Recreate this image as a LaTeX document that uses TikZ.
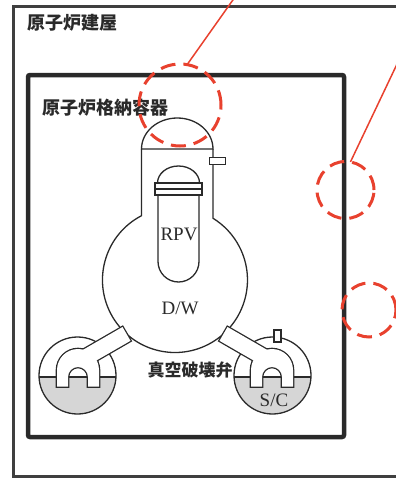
\documentclass[tikz,border=0pt]{standalone}
\usepackage{fontspec}
\newfontfamily\jpfont{Noto Sans CJK JP}
\newfontfamily\tmsfont{Liberation Serif}
\usetikzlibrary{calc}
\usetikzlibrary{positioning}

\definecolor{ink}{HTML}{2A2A2A}
\definecolor{markred}{HTML}{E8412E}
\definecolor{water}{HTML}{D6D6D6}

\tikzset{
  wall/.style={line width=3pt, draw=ink!90},
  pcvwall/.style={line width=4.5pt, draw=ink, rounded corners=2pt},
  vessel/.style={line width=1.3pt, draw=ink},
  title/.style={inner sep=0pt, text=ink, font=\jpfont\bfseries\fontsize{18}{18}\selectfont},
  lbl/.style={inner sep=0pt, text=ink, font=\tmsfont\fontsize{19}{19}\selectfont},
  ringmark/.style={circle, draw=markred, line width=3pt, dash pattern=on 15pt off 8pt, inner sep=0pt, outer sep=0pt},
  leader/.style={draw=markred, line width=1.5pt}
}

\begin{document}
\begin{tikzpicture}[x=1pt, y=-1pt]
    \useasboundingbox (0,0) rectangle (396,479);

    % reactor building and containment walls
    \draw[wall] (400,6) -- (13,6) -- (13,476.5) -- (400,476.5);
    \draw[pcvwall] (28,75) rectangle (344,437);
    \node[title, anchor=west] (bldg) at (27,23) {原子炉建屋};
    \node[title, anchor=west] (pcv) at (42,108) {原子炉格納容器};

    % suppression chambers with water
    \foreach \side in {0,1}{
      \begin{scope}[xshift=\side*350pt, xscale=1-2*\side]
        \begin{scope}
          \clip (77.5,375.5) circle[radius=38.5];
          \fill[water] (30,377) rectangle (125,420);
        \end{scope}
        \draw[vessel] (39,377) -- (116,377);
        \draw[vessel] (77.5,375.5) circle[radius=38.5];
      \end{scope}
    }

    % drywell: neck and bulb
    \draw[vessel] (141.5,149) -- (141.5,215.7)
        arc[start angle=242.5, end angle=-58.4, radius=72.5] -- (213,149);
    % top head
    \draw[vessel] (141.5,149) arc[start angle=180, end angle=360, x radius=35.75, y radius=31] -- cycle;

    % vent pipes and downcomer arches
    \foreach \side in {0,1}{
      \begin{scope}[xshift=\side*350pt, xscale=1-2*\side]
        \coordinate (p1) at (122.5,327.0);
        \coordinate (p2) at (79.2,352.0);
        \coordinate (p3) at (87.2,365.8);
        \coordinate (p4) at (130.5,340.8);
        % thick outline first, white fill after: pipe and arch merge
        \draw[vessel, line width=2.6pt] (57,386.5) -- (57,370)
            arc[start angle=180, end angle=360, radius=21] -- (99,386.5) -- (88,386.5) -- (88,377)
            arc[start angle=0, end angle=-180, radius=10] -- (68,386.5) -- cycle;
        \draw[vessel, line width=2.6pt] (p1) -- (p2) -- (p3) -- (p4) -- cycle;
        \fill[white] (57,386.5) -- (57,370)
            arc[start angle=180, end angle=360, radius=21] -- (99,386.5) -- (88,386.5) -- (88,377)
            arc[start angle=0, end angle=-180, radius=10] -- (68,386.5) -- cycle;
        \fill[white] (p1) -- (p2) -- (p3) -- (p4) -- cycle;
      \end{scope}
    }

    % small nozzles
    \draw[vessel, fill=white] (209.5,157.5) rectangle (225.5,164.5);
    \draw[vessel, fill=white] (274,330) rectangle (281,342);

    % RPV
    \draw[vessel] (158,195) -- (158,261.5) arc[start angle=180, end angle=0, radius=20.5] -- (199,195);
    \draw[vessel] (157.5,183) arc[start angle=180, end angle=360, x radius=21, y radius=17];
    \draw[vessel, fill=white] (155,183) rectangle (202,189);
    \draw[vessel, fill=white] (155,189) rectangle (202,195);

    \node[lbl] (rpv) at (179,234) {RPV};
    \node[lbl] (dw) at (180,308) {D/W};
    \node[lbl] (sc) at (274,400) {S/C};
    \node[title, font=\jpfont\bfseries\fontsize{17}{17}\selectfont] (vb) at (190,370) {真空破壊弁};

    % red marks
    \node[ringmark, minimum size=82pt] (mk1) at (180,105) {};
    \node[ringmark, minimum size=57pt] (mk2) at (345.5,190) {};
    \node[ringmark, minimum size=54pt] (mk3) at (369,310) {};
    \coordinate (src1) at (235,-3);
    \coordinate (src2) at (398,62);
    \draw[leader] (src1) -- (mk1.80);
    \draw[leader] (src2) -- (mk2.80);
\end{tikzpicture}
\end{document}
